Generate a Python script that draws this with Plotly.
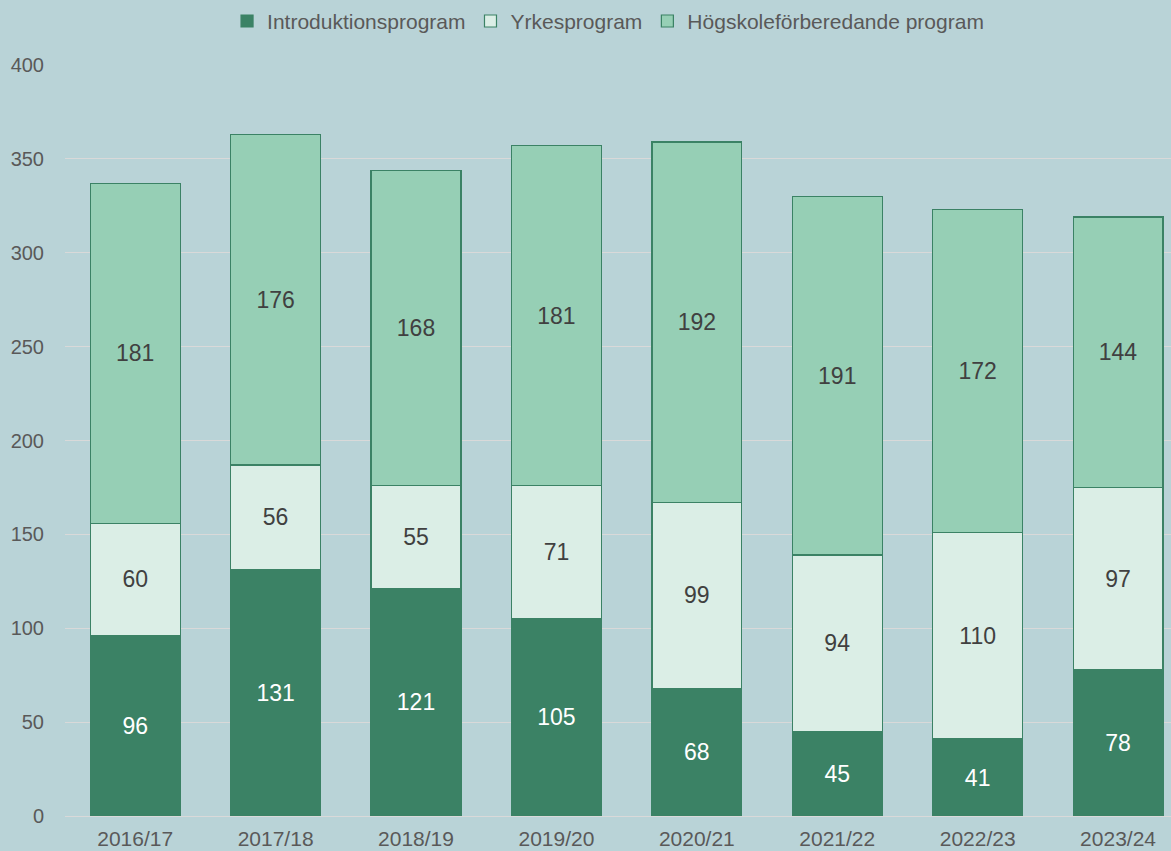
import plotly.graph_objects as go

years = ["2016/17", "2017/18", "2018/19", "2019/20", "2020/21", "2021/22", "2022/23", "2023/24"]
intro = [96, 131, 121, 105, 68, 45, 41, 78]
yrkes = [60, 56, 55, 71, 99, 94, 110, 97]
hogsk = [181, 176, 168, 181, 192, 191, 172, 144]

series = [
    ("Introduktionsprogram", intro, "#3B8265", "white"),
    ("Yrkesprogram", yrkes, "#DBEEE6", "#404040"),
    ("Högskoleförberedande program", hogsk, "#96CFB5", "#404040"),
]

fig = go.Figure()
for name, vals, col, tcol in series:
    fig.add_trace(go.Bar(
        x=years, y=vals, name=name,
        marker=dict(color=col, line=dict(color="#3B8265", width=1.2)),
        text=vals, textposition="inside", insidetextanchor="middle",
        textfont=dict(size=23, color=tcol, family="Liberation Sans, Arial"),
        width=0.64,
    ))

fig.update_layout(
    barmode="stack",
    width=1171, height=851,
    paper_bgcolor="#B9D3D7", plot_bgcolor="#B9D3D7",
    margin=dict(l=65, r=0, t=65, b=35),
    font=dict(family="Liberation Sans, Arial", size=20, color="#595959"),
    legend=dict(orientation="h", x=0.491, xanchor="center", y=0.999, yanchor="top",
                yref="container", font=dict(size=21, color="#595959"),
                bgcolor="rgba(0,0,0,0)", traceorder="normal"),
    showlegend=True,
)
fig.update_xaxes(range=[-0.5, 7.377], showgrid=False, showline=False,
                 tickfont=dict(size=21, color="#595959"), ticks="", ticklabelstandoff=8)
fig.update_yaxes(range=[0, 400], dtick=50, showgrid=True, gridcolor="#D9D9D9", gridwidth=1,
                 zeroline=True, zerolinecolor="#D9D9D9", zerolinewidth=1,
                 tickfont=dict(size=20, color="#595959"), ticks="", ticklabelstandoff=20)

fig.write_html("out.html", config={"displayModeBar": False})

with open("out.html", encoding="utf-8") as f:
    html = f.read()
html = html.replace("<body>", '<body style="margin:0;background:#B9D3D7;overflow:hidden">', 1)
with open("out.html", "w", encoding="utf-8") as f:
    f.write(html)
